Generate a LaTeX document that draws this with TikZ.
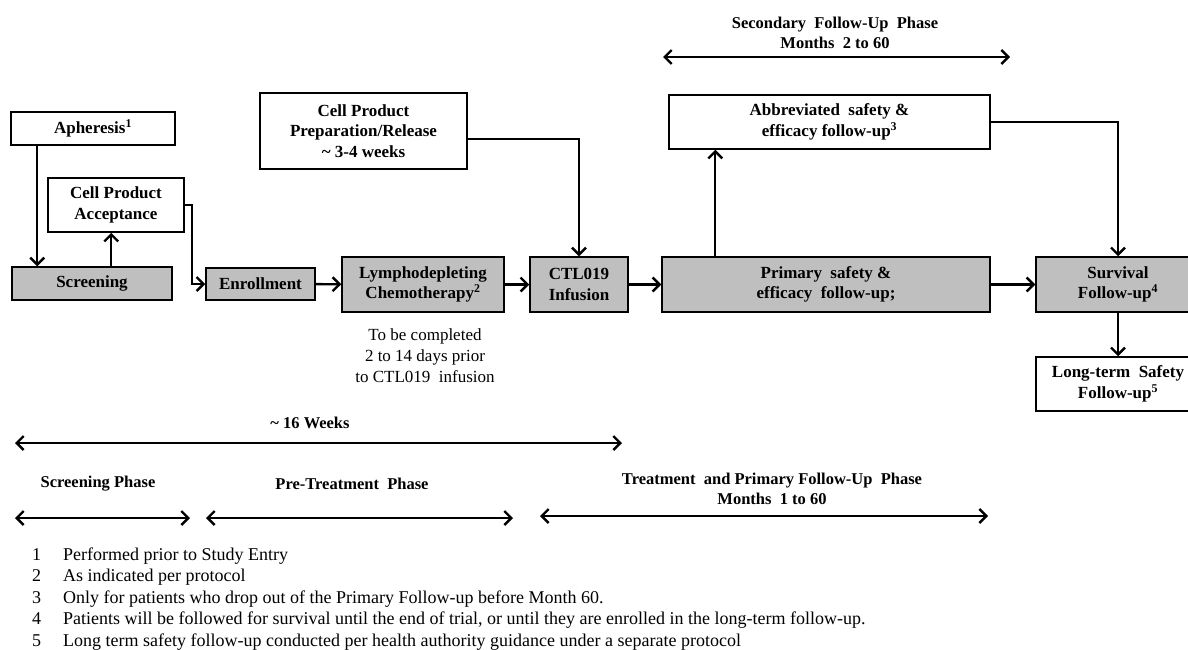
\documentclass[tikz,border=0pt]{standalone}
\usepackage{fontspec}
\setmainfont{Liberation Serif}
\usetikzlibrary{arrows.meta}
\tikzset{
	box/.style={draw, line width=1.5pt, align=center, inner sep=1pt,
		font=\bfseries\fontsize{17}{20.5}\selectfont},
	shaded/.style={box, fill=black!25},
	link/.style={line width=2.4pt, -{Straight Barb[length=7pt,width=14pt,line width=2.4pt]}},
	span/.style={line width=2.4pt, {Straight Barb[length=7pt,width=14pt,line width=2.4pt]}-{Straight Barb[length=7pt,width=14pt,line width=2.4pt]}},
	phase/.style={align=center, inner sep=0pt, font=\bfseries\fontsize{16.5}{20}\selectfont},
	note/.style={anchor=base west, inner sep=0pt, font=\fontsize{18}{21}\selectfont}
}

\begin{document}
\begin{tikzpicture}[x=1pt, y=-1pt]
			%%%%% START %%%%%
			\useasboundingbox (0, 0) rectangle (1188, 649);
			
			% upper row
			\node[box, minimum width=164, minimum height=33] (apher) at (93, 128.5) {Apheresis\textsuperscript{1}};
			\node[box, minimum width=136, minimum height=54] (accept) at (116, 205) {Cell Product\\Acceptance};
			\node[box, minimum width=207, minimum height=76] (prep) at (363.5, 131) {Cell Product\\Preparation/Release\\\textasciitilde\ 3-4 weeks};
			\node[box, minimum width=321, minimum height=54] (abbrev) at (829.5, 122) {Abbreviated~ safety \&\\efficacy follow-up\textsuperscript{3}};
			
			% main row
			\node[shaded, minimum width=160, minimum height=33] (screen) at (92, 283.5) {Screening};
			\node[shaded, minimum width=109, minimum height=32] (enroll) at (260.5, 284) {Enrollment};
			\node[shaded, minimum width=162, minimum height=55] (lympho) at (423, 284.5) {Lymphodepleting\\Chemotherapy\textsuperscript{2}};
			\node[shaded, minimum width=98, minimum height=55] (ctl) at (579, 284.5) {CTL019\\Infusion};
			\node[shaded, minimum width=328, minimum height=55] (primary) at (826, 284.5) {Primary~ safety \&\\efficacy~ follow-up;};
			\node[shaded, minimum width=164, minimum height=55] (surv) at (1118, 284.5) {Survival\\Follow-up\textsuperscript{4}};
			\node[box, minimum width=164, minimum height=54] (longterm) at (1118, 384) {Long-term~ Safety\\Follow-up\textsuperscript{5}};
			
			\node[align=center, inner sep=0pt, font=\fontsize{17}{21}\selectfont] (window) at (425, 356) {To be completed\\2 to 14 days prior\\to CTL019~ infusion};
			
			% connectors
			\draw[link] ([xshift=27pt]apher.south west) -- ([xshift=26pt]screen.north west);
			\draw[link] ([xshift=100pt]screen.north west) -- ([xshift=64pt]accept.south west);
			\draw[link] (accept.east) -- ++(7, 0) |- (enroll.west);
			\draw[link] (enroll) -- (lympho);
			\draw[link] (lympho) -- (ctl);
			\draw[link] (ctl) -- (primary);
			\draw[link] (primary) -- (surv);
			\draw[link] ([yshift=-8pt]prep.east) -| (ctl.north);
			\draw[link] ([xshift=54pt]primary.north west) -- ([xshift=47pt]abbrev.south west);
			\draw[link] (abbrev.east) -| (surv.north);
			\draw[link] (surv) -- (longterm);
			
			% phases
			\node[phase] (second) at (835, 33) {Secondary~ Follow-Up~ Phase\\Months~ 2 to 60};
			\coordinate (second-l) at (663, 57);
			\coordinate (second-r) at (1010, 57);
			\draw[span] (second-l) -- (second-r);
			
			\node[phase] (weeks) at (310, 423) {\textasciitilde\ 16 Weeks};
			\coordinate (weeks-l) at (15, 443);
			\coordinate (weeks-r) at (622, 443);
			\draw[span] (weeks-l) -- (weeks-r);
			
			\node[phase] (scrphase) at (98, 484) {Screening Phase};
			\coordinate (scrphase-l) at (15, 518);
			\coordinate (scrphase-r) at (190, 518);
			\draw[span] (scrphase-l) -- (scrphase-r);
			
			\node[phase] (prephase) at (352, 484) {Pre-Treatment~ Phase};
			\coordinate (prephase-l) at (206, 518);
			\coordinate (prephase-r) at (513, 518);
			\draw[span] (prephase-l) -- (prephase-r);
			
			\node[phase] (trtphase) at (772, 489) {Treatment~ and Primary Follow-Up~ Phase\\Months~ 1 to 60};
			\coordinate (trtphase-l) at (540, 516);
			\coordinate (trtphase-r) at (988, 516);
			\draw[span] (trtphase-l) -- (trtphase-r);
			
			% footnotes
			\node[note] (n1) at (32, 560) {1};
			\node[note] (t1) at (63, 560) {Performed prior to Study Entry};
			\node[note] (n2) at (32, 581.5) {2};
			\node[note] (t2) at (63, 581.5) {As indicated per protocol};
			\node[note] (n3) at (32, 603) {3};
			\node[note] (t3) at (63, 603) {Only for patients who drop out of the Primary Follow-up before Month 60.};
			\node[note] (n4) at (32, 624.5) {4};
			\node[note] (t4) at (63, 624.5) {Patients will be followed for survival until the end of trial, or until they are enrolled in the long-term follow-up.};
			\node[note] (n5) at (32, 646) {5};
			\node[note] (t5) at (63, 646) {Long term safety follow-up conducted per health authority guidance under a separate protocol};
			
			%%%%% END %%%%%
\end{tikzpicture}
\end{document}
